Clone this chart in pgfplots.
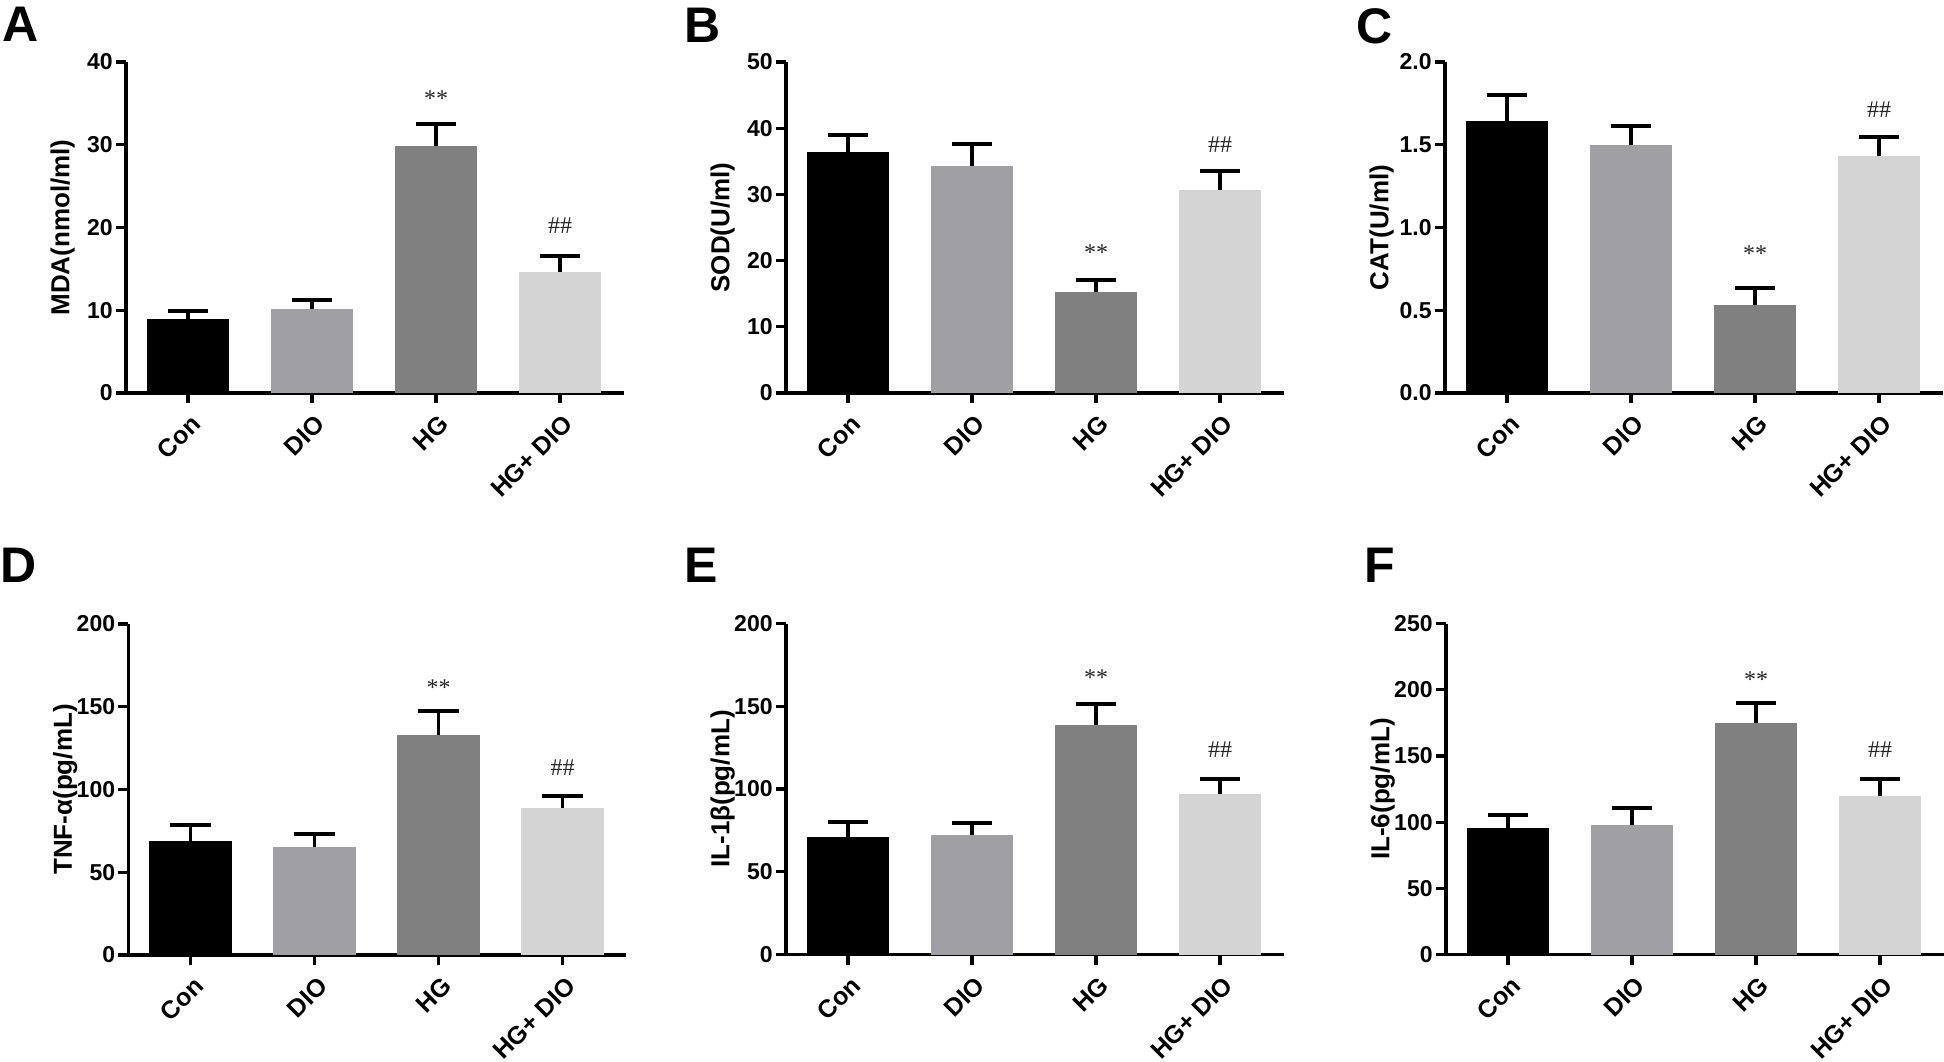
\documentclass[border=0pt]{standalone}
\usepackage{fontspec}
\setmainfont{Liberation Sans}
\newfontfamily\seriffont{Liberation Serif}
\usepackage{pgfplots}
\pgfplotsset{compat=1.18}

\definecolor{cCon}{RGB}{0,0,0}
\definecolor{cDIO}{RGB}{160,160,164}
\definecolor{cHG}{RGB}{128,128,128}
\definecolor{cHD}{RGB}{212,212,212}

\tikzset{ann/.style={font=\seriffont\fontsize{12}{12}\selectfont, text=black!85},
  letter/.style={anchor=north west, inner sep=0, font=\bfseries\fontsize{25}{25}\selectfont}}
\pgfplotsset{
 eb/.style={draw=none,
  error bars/.cd, y dir=plus, y explicit, error mark=|,
  error bar style={draw=black, line width=1.8pt},
  error mark options={draw=black, line width=2pt, mark size=10.2pt}},
 panel/.style={
  scale only axis, width=249pt, height=165.5pt,
  anchor=south west,
  axis lines*=left, axis line style={line width=1.6pt, -},
  xmin=-0.5, xmax=3.516, ymin=0,
  xtick={0,1,2,3}, xticklabels={Con,DIO,HG,HG+ DIO},
  xticklabel style={font=\bfseries\fontsize{12.5}{13}\selectfont, yshift=-3.5pt, xshift=1pt, rotate=45, anchor=north east, inner sep=1pt},
  yticklabel style={font=\bfseries\fontsize{11.5}{11.5}\selectfont, inner sep=1.5pt},
  tick align=outside,
  tick style={line width=1.6pt, black},
  major tick length=5pt,
  ylabel style={at={(axis description cs:-0.127,0.5)}, anchor=center, font=\bfseries\fontsize{13}{13}\selectfont},
  /pgf/number format/assume math mode=true,
  ybar, bar width=41.3pt, bar shift=0pt,
  clip=false,
 },
}

\begin{document}
\begin{tikzpicture}
\useasboundingbox (0,0) rectangle (972pt,-530.5pt);

\node[letter] at (1pt,-3.5pt) {A};
\node[letter] at (342pt,-4pt) {B};
\node[letter] at (678pt,-4pt) {C};
\node[letter] at (0pt,-274pt) {D};
\node[letter] at (342pt,-274pt) {E};
\node[letter] at (682pt,-274pt) {F};

% A
\begin{axis}[panel, at={(63pt,-196.5pt)}, ymax=40, ytick={0,10,20,30,40}, ylabel={MDA(nmol/ml)}]
\addplot[fill=cCon, eb] coordinates {(0,9.0) +- (0,0.9)};
\addplot[fill=cDIO, eb] coordinates {(1,10.2) +- (0,1.1)};
\addplot[fill=cHG, eb] coordinates {(2,29.9) +- (0,2.6)};
\addplot[fill=cHD, eb] coordinates {(3,14.6) +- (0,2.0)};
\node[ann] at (axis cs:2,35.6) {**};
\node[ann] at (axis cs:3,20.2) {\#\#};
\end{axis}

% B
\begin{axis}[panel, at={(393pt,-196.5pt)}, ymax=50, ytick={0,10,20,30,40,50}, ylabel={SOD(U/ml)}]
\addplot[fill=cCon, eb] coordinates {(0,36.4) +- (0,2.5)};
\addplot[fill=cDIO, eb] coordinates {(1,34.3) +- (0,3.3)};
\addplot[fill=cHG, eb] coordinates {(2,15.2) +- (0,1.9)};
\addplot[fill=cHD, eb] coordinates {(3,30.6) +- (0,2.9)};
\node[ann] at (axis cs:2,21.2) {**};
\node[ann] at (axis cs:3,37.5) {\#\#};
\end{axis}

% C
\begin{axis}[panel, at={(722.5pt,-196.5pt)}, ymax=2, ytick={0,0.5,1,1.5,2}, ylabel={CAT(U/ml)},
  yticklabel style={/pgf/number format/.cd, fixed, fixed zerofill, precision=1}]
\addplot[fill=cCon, eb] coordinates {(0,1.646) +- (0,0.155)};
\addplot[fill=cDIO, eb] coordinates {(1,1.497) +- (0,0.118)};
\addplot[fill=cHG, eb] coordinates {(2,0.53) +- (0,0.106)};
\addplot[fill=cHD, eb] coordinates {(3,1.43) +- (0,0.116)};
\node[ann] at (axis cs:2,0.843) {**};
\node[ann] at (axis cs:3,1.713) {\#\#};
\end{axis}

% D
\begin{axis}[panel, at={(64.25pt,-477.5pt)}, ymax=200, ytick={0,50,100,150,200}, ylabel={TNF-α(pg/mL)}]
\addplot[fill=cCon, eb] coordinates {(0,69.1) +- (0,9.2)};
\addplot[fill=cDIO, eb] coordinates {(1,65.1) +- (0,8.3)};
\addplot[fill=cHG, eb] coordinates {(2,133.1) +- (0,14.1)};
\addplot[fill=cHD, eb] coordinates {(3,88.7) +- (0,7.4)};
\node[ann] at (axis cs:2,161.6) {**};
\node[ann] at (axis cs:3,113.5) {\#\#};
\end{axis}

% E
\begin{axis}[panel, at={(393pt,-477.25pt)}, ymax=200, ytick={0,50,100,150,200}, ylabel={IL-1β(pg/mL)}]
\addplot[fill=cCon, eb] coordinates {(0,71.1) +- (0,8.8)};
\addplot[fill=cDIO, eb] coordinates {(1,72.5) +- (0,7.0)};
\addplot[fill=cHG, eb] coordinates {(2,138.4) +- (0,13.0)};
\addplot[fill=cHD, eb] coordinates {(3,96.8) +- (0,9.2)};
\node[ann] at (axis cs:2,167.3) {**};
\node[ann] at (axis cs:3,123.8) {\#\#};
\end{axis}

% F
\begin{axis}[panel, at={(723pt,-477.25pt)}, ymax=250, ytick={0,50,100,150,200,250}, ylabel={IL-6(pg/mL)}]
\addplot[fill=cCon, eb] coordinates {(0,95.2) +- (0,10.0)};
\addplot[fill=cDIO, eb] coordinates {(1,97.7) +- (0,12.8)};
\addplot[fill=cHG, eb] coordinates {(2,175) +- (0,14.8)};
\addplot[fill=cHD, eb] coordinates {(3,120) +- (0,12.2)};
\node[ann] at (axis cs:2,207.8) {**};
\node[ann] at (axis cs:3,154.8) {\#\#};
\end{axis}
\end{tikzpicture}
\end{document}
